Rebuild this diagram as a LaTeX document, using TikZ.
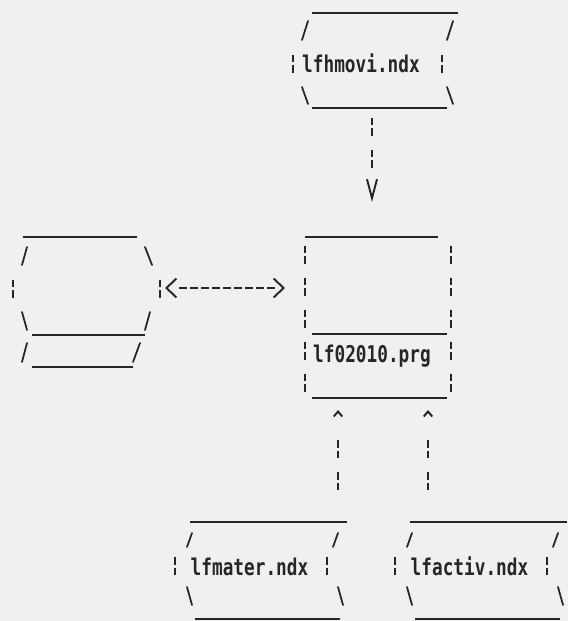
\documentclass[tikz,border=0pt]{standalone}
\usepackage{fontspec}
\newfontfamily\dotfont{DejaVu Sans Mono}
\usetikzlibrary{arrows.meta}
\definecolor{ink}{gray}{0.15}
\definecolor{paper}{gray}{0.94}
\newcommand\fname[1]{\scalebox{1}[1.3]{#1}}

\begin{document}
\begin{tikzpicture}[x=0.02cm,y=-0.02cm,line join=round,
		under/.style={ink,line width=1.4pt},
		slash/.style={ink,line width=1pt,line cap=round},
		brk/.style={ink,line width=1.4pt,dash pattern=on 0.15cm off 0.06cm on 0.15cm off 0.28cm},
		link/.style={ink,line width=1.4pt,dash pattern=on 0.15cm off 0.06cm on 0.15cm off 0.28cm on 0.15cm off 0.06cm on 0.15cm off 1.2cm},
		hlink/.style={ink,line width=1.3pt,dash pattern=on 0cm off 0.24cm on 0.16cm off 0.06cm on 0.16cm off 0.06cm on 0.16cm off 0.06cm on 0.16cm off 0.06cm on 0.16cm off 0.06cm on 0.16cm off 0.06cm on 0.16cm off 0.06cm on 0.16cm off 0.06cm on 0.16cm off 0.4cm},
		vee/.tip={Straight Barb[length=0.38cm,width=0.2cm,line width=1.1pt]},
		hat/.tip={Straight Barb[length=0.1cm,width=0.17cm,line width=1.1pt]},
		ang/.tip={Straight Barb[length=0.2cm,width=0.38cm,line width=1.1pt]},
		fname/.style={text=ink,anchor=base,inner sep=0pt,font=\dotfont\bfseries\fontsize{10.1}{12}\selectfont}]
	\useasboundingbox (0,0) rectangle (568,621);
	\fill[paper] (0,0) rectangle (568,621);
	\clip (0,0) rectangle (568,621);
	% lfhmovi.ndx
	\draw[under] (312,13) -- (458,13) (312,108) -- (447,108);
	\draw[slash] (302,40) -- (308,21) (447,40) -- (453,21) (302,87) -- (308,104) (447,87) -- (453,104);
	\draw[brk] (293,55) -- (293,73) (442,55) -- (442,73);
	\node[fname] (movi) at (361,73) {\fname{lfhmovi.ndx}};
	% left store
	\draw[under] (23,237) -- (137,237) (32,335) -- (145,335) (32,367) -- (133,367);
	\draw[slash] (22,265) -- (27,247) (145,247) -- (152,265) (22,312) -- (27,330) (145,330) -- (150,312) (22,362) -- (27,343) (133,362) -- (140,343);
	\draw[brk] (13,280) -- (13,298) (160,280) -- (160,298);
	% lf02010.prg
	\draw[under] (305,237) -- (438,237) (312,334) -- (447,334) (312,398) -- (447,398);
	\draw[brk] (305,246) -- (305,394) (451,246) -- (451,394);
	\node[fname] (prg) at (372,362) {\fname{lf02010.prg}};
	% lower files
	\foreach \dx/\nm/\txt in {0/mater/lfmater.ndx,220/activ/lfactiv.ndx}{
		\begin{scope}[shift={(\dx,0)}]
			\draw[under] (190,522) -- (347,522) (195,619) -- (340,619);
			\draw[slash] (187,547) -- (192,533) (333,547) -- (338,533) (187,587) -- (192,605) (338,587) -- (343,605);
			\draw[brk] (175,557) -- (175,575) (327,557) -- (327,575);
			\node[fname] (\nm) at (249.5,575) {\fname{\txt}};
		\end{scope}
	}
	% links
	\coordinate (movi-s) at (372,118);
	\coordinate (prg-n) at (372,202);
	\coordinate (store-e) at (165,288);
	\coordinate (prg-w) at (285,288);
	\coordinate (mater-n) at (338,490);
	\coordinate (prg-s1) at (338,410);
	\coordinate (activ-n) at (428,490);
	\coordinate (prg-s2) at (428,410);
	\draw[link,-vee] (movi-s) -- (prg-n);
	\draw[hlink,ang-ang] (store-e) -- (prg-w);
	\draw[link,-hat] (mater-n) -- (prg-s1);
	\draw[link,-hat] (activ-n) -- (prg-s2);
\end{tikzpicture}
\end{document}
